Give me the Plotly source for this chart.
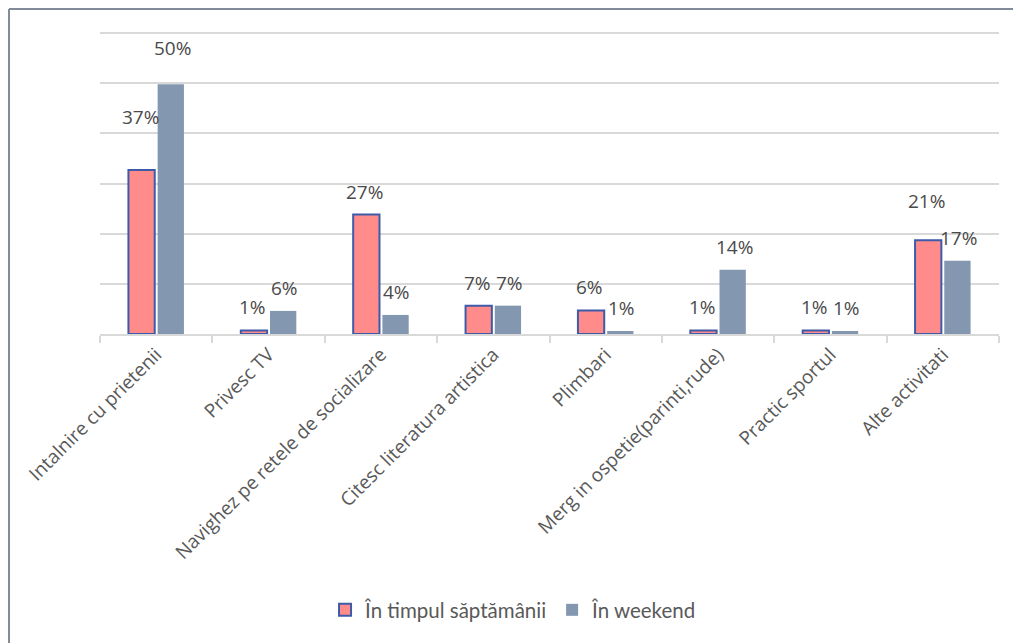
import plotly.graph_objects as go

categories = [
    "Intalnire cu prietenii",
    "Privesc TV",
    "Navighez pe retele de socializare",
    "Citesc literatura artistica",
    "Plimbari",
    "Merg in ospetie(parinti,rude)",
    "Practic sportul",
    "Alte activitati",
]
series_names = ["În timpul săptămânii", "În weekend"]

# bar heights (axis units, gridlines every 10)
weekday_values = [32.7, 0.7, 23.8, 5.65, 4.7, 0.7, 0.7, 18.7]
weekend_values = [49.8, 4.6, 3.8, 5.65, 0.6, 12.8, 0.6, 14.6]

# data labels as printed on the chart
weekday_labels = ["37%", "1%", "27%", "7%", "6%", "1%", "1%", "21%"]
weekend_labels = ["50%", "6%", "4%", "7%", "1%", "14%", "1%", "17%"]

# extra vertical lift (px) of manually moved labels
weekday_lift = [30, 0, 0, 0, 0, 0, 0, 16]
weekend_lift = [13, 0, 0, 0, 0, 0, 0, 0]

TEXT = "#595959"
LABEL = "#4A4A4A"
FONT = "'Open Sans', sans-serif"

fig = go.Figure()
fig.add_trace(go.Bar(
    x=categories, y=weekday_values, name=series_names[0],
    marker=dict(color="#FF8B8B", line=dict(color="#3E5BA9", width=2)),
))
fig.add_trace(go.Bar(
    x=categories, y=weekend_values, name=series_names[1],
    marker=dict(color="#8497B0", line=dict(width=0)),
))

for vals, labs, lifts, dx in [
    (weekday_values, weekday_labels, weekday_lift, -16),
    (weekend_values, weekend_labels, weekend_lift, 16),
]:
    for c, v, t, lift in zip(categories, vals, labs, lifts):
        fig.add_annotation(
            x=c, y=v, text=t, showarrow=False,
            xshift=dx, yshift=23 + lift, yanchor="middle",
            font=dict(family=FONT, size=19, color=LABEL),
        )

# outer frame (left and top edges)
fig.add_shape(type="line", xref="paper", yref="paper",
              x0=-0.1012, x1=1.05, y0=1.0621, y1=1.0621,
              line=dict(color="#808A99", width=2))
fig.add_shape(type="line", xref="paper", yref="paper",
              x0=-0.1012, x1=-0.1012, y0=1.0621, y1=-1.1,
              line=dict(color="#808A99", width=2))

fig.update_layout(
    width=1013, height=635,
    margin=dict(l=92, r=22, t=20, b=309),
    plot_bgcolor="white", paper_bgcolor="white",
    bargap=0.48, bargroupgap=0.1,
    barmode="group",
    font=dict(family=FONT, color=TEXT),
    showlegend=True,
    legend=dict(
        orientation="h", x=0.46, xanchor="center", y=-0.902, yanchor="middle",
        font=dict(family="Lato, sans-serif", size=20.5, color=TEXT),
        tracegroupgap=0,
    ),
)
fig.update_xaxes(
    tickangle=-45, tickfont=dict(family=FONT, size=19, color=TEXT),
    showline=True, linecolor="#D9D9D9", linewidth=2,
    ticks="outside", tickson="boundaries", ticklen=7, tickcolor="#D9D9D9", tickwidth=2,
    showgrid=False,
)
fig.update_yaxes(
    range=[0, 61], tickvals=[10, 20, 30, 40, 50, 60], showticklabels=False,
    showgrid=True, gridcolor="#D9D9D9", gridwidth=2,
    zeroline=False,
)

fig.write_html("out.html")
